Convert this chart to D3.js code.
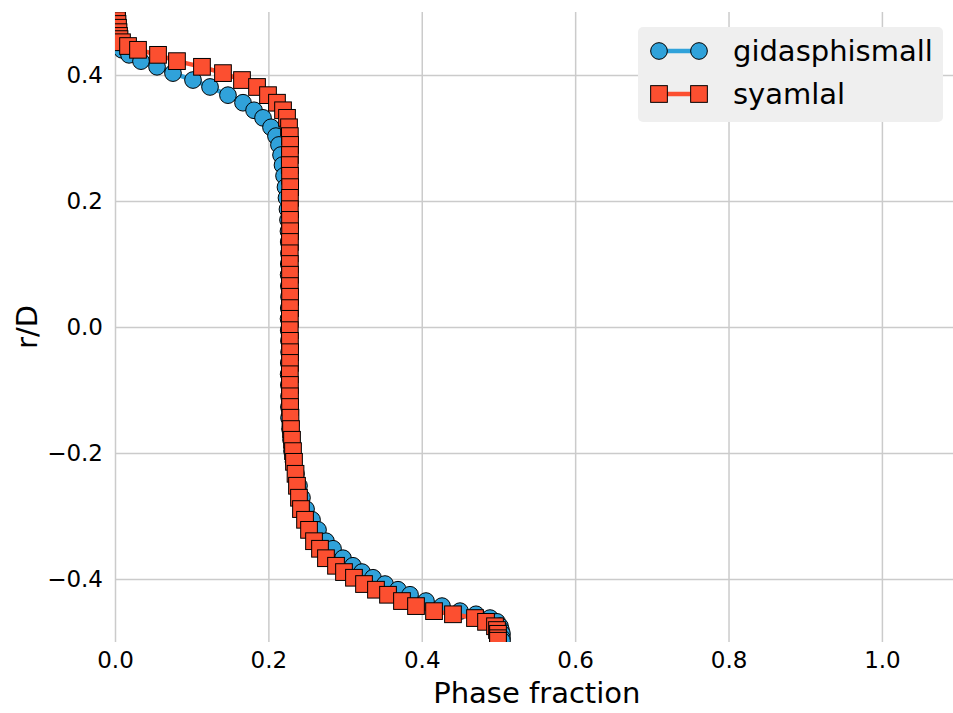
<!DOCTYPE html>
<html>
<head>
<meta charset="utf-8">
<script src="https://cdn.jsdelivr.net/npm/d3@7"></script>
<style>
  html, body { margin: 0; padding: 0; background: #fff; }
  svg { display: block; font-family: "DejaVu Sans", sans-serif; }
</style>
</head>
<body>
<div id="chart"></div>
<script>
// r/D sample positions (shared by both runs)
const rD = [
  0.500, 0.494, 0.487, 0.481, 0.475, 0.468, 0.462, 0.457, 0.452, 0.446, 0.440,
  0.432, 0.422, 0.413, 0.403, 0.392, 0.381, 0.368, 0.356, 0.344, 0.332, 0.317,
  0.303, 0.289, 0.273, 0.257, 0.240, 0.222, 0.205, 0.187, 0.170, 0.152, 0.135,
  0.117, 0.100, 0.083, 0.065, 0.048, 0.030, 0.013, -0.005, -0.022, -0.040, -0.057,
  -0.075, -0.092, -0.110, -0.127, -0.144, -0.162, -0.179, -0.197, -0.214, -0.233, -0.252,
  -0.271, -0.289, -0.306, -0.322, -0.340, -0.352, -0.367, -0.379, -0.389, -0.398, -0.408,
  -0.417, -0.425, -0.435, -0.443, -0.451, -0.456, -0.462, -0.468, -0.475, -0.481, -0.487,
  -0.494, -0.498
];

// phase fraction, gidasphismall
const gidasphismall = [
  0.0013, 0.0013, 0.0020, 0.0026, 0.0026, 0.0033, 0.0039, 0.0046, 0.0052, 0.0065, 0.0091,
  0.0183, 0.0339, 0.0548, 0.0756, 0.1017, 0.1239, 0.1473, 0.1669, 0.1813, 0.1930, 0.2034,
  0.2099, 0.2138, 0.2165, 0.2184, 0.2204, 0.2223, 0.2236, 0.2249, 0.2256, 0.2262, 0.2265,
  0.2268, 0.2266, 0.2264, 0.2267, 0.2269, 0.2266, 0.2263, 0.2265, 0.2268, 0.2270, 0.2266,
  0.2264, 0.2267, 0.2269, 0.2268, 0.2269, 0.2282, 0.2295, 0.2308, 0.2328, 0.2360, 0.2399,
  0.2438, 0.2491, 0.2569, 0.2647, 0.2751, 0.2843, 0.2973, 0.3103, 0.3221, 0.3364, 0.3521,
  0.3690, 0.3847, 0.4055, 0.4264, 0.4499, 0.4707, 0.4890, 0.4981, 0.5020, 0.5033, 0.5046,
  0.5046, 0.5046
];

// phase fraction, syamlal
const syamlal = [
  0.0026, 0.0026, 0.0026, 0.0033, 0.0039, 0.0046, 0.0052, 0.0059, 0.0091, 0.0170, 0.0300,
  0.0561, 0.0808, 0.1134, 0.1408, 0.1656, 0.1852, 0.1995, 0.2112, 0.2191, 0.2243, 0.2269,
  0.2280, 0.2283, 0.2281, 0.2279, 0.2282, 0.2284, 0.2281, 0.2280, 0.2282, 0.2283, 0.2281,
  0.2279, 0.2280, 0.2282, 0.2281, 0.2283, 0.2282, 0.2280, 0.2279, 0.2281, 0.2283, 0.2282,
  0.2280, 0.2281, 0.2282, 0.2283, 0.2288, 0.2295, 0.2308, 0.2321, 0.2334, 0.2354, 0.2373,
  0.2399, 0.2425, 0.2478, 0.2530, 0.2595, 0.2673, 0.2751, 0.2882, 0.2986, 0.3116, 0.3247,
  0.3403, 0.3560, 0.3742, 0.3925, 0.4160, 0.4407, 0.4694, 0.4838, 0.4955, 0.4981, 0.4994,
  0.4994, 0.4994
];

const xTicks = [0.0, 0.2, 0.4, 0.6, 0.8, 1.0];
const yTicks = [-0.4, -0.2, 0.0, 0.2, 0.4];
const seriesNames = ["gidasphismall", "syamlal"];
const seriesColors = ["#30a2da", "#fc4f30"];

// dimensions
const width = 953;
const height = 713;
const marginLeft = 115;
const marginTop = 12;
const plotW = 843.6;   // axes run past the right edge of the picture (x up to 1.1)
const plotH = 630;
const tickFont = "23px";
const labelFont = "29px";
const markerSize = 16.7;

const x = d3.scaleLinear().domain([0, 1.1]).range([marginLeft, marginLeft + plotW]);
const y = d3.scaleLinear().domain([-0.5, 0.5]).range([marginTop + plotH, marginTop]);

const svg = d3.select("#chart").append("svg")
  .attr("width", width)
  .attr("height", height)
  .attr("viewBox", [0, 0, width, height]);

svg.append("defs").append("clipPath")
  .attr("id", "plot-clip")
  .append("rect")
  .attr("x", marginLeft)
  .attr("y", marginTop)
  .attr("width", plotW)
  .attr("height", plotH);

// grid + tick labels
svg.append("g")
  .attr("transform", `translate(0,${marginTop + plotH})`)
  .call(d3.axisBottom(x).tickValues(xTicks).tickFormat(d3.format(".1f"))
    .tickSize(-plotH).tickPadding(10))
  .call(g => g.select(".domain").remove())
  .call(g => g.selectAll(".tick line").attr("stroke", "#cbcbcb").attr("stroke-width", 1.5))
  .call(g => g.selectAll(".tick text").attr("font-size", tickFont).attr("fill", "#000")
    .attr("font-family", "DejaVu Sans, sans-serif"));

svg.append("g")
  .attr("transform", `translate(${marginLeft},0)`)
  .call(d3.axisLeft(y).tickValues(yTicks).tickFormat(d3.format(".1f"))
    .tickSize(-plotW).tickPadding(12))
  .call(g => g.select(".domain").remove())
  .call(g => g.selectAll(".tick line").attr("stroke", "#cbcbcb").attr("stroke-width", 1.5))
  .call(g => g.selectAll(".tick text").attr("font-size", tickFont).attr("fill", "#000")
    .attr("font-family", "DejaVu Sans, sans-serif"));

// axis labels
svg.append("text")
  .attr("x", marginLeft + plotW / 2)
  .attr("y", 703)
  .attr("text-anchor", "middle")
  .attr("font-size", labelFont)
  .text("Phase fraction");

svg.append("text")
  .attr("transform", `translate(37,${marginTop + plotH / 2}) rotate(-90)`)
  .attr("text-anchor", "middle")
  .attr("font-size", labelFont)
  .text("r/D");

// data
const series = [gidasphismall, syamlal].map((vals, i) => ({
  name: seriesNames[i],
  color: seriesColors[i],
  points: vals.map((v, j) => ({ v, r: rD[j] }))
}));

const line = d3.line().x(d => x(d.v)).y(d => y(d.r));
const plot = svg.append("g").attr("clip-path", "url(#plot-clip)");

series.forEach((s, i) => {
  const g = plot.append("g");
  g.append("path")
    .datum(s.points)
    .attr("fill", "none")
    .attr("stroke", s.color)
    .attr("stroke-width", 4.5)
    .attr("d", line);
  if (i === 0) {
    g.selectAll("circle")
      .data(s.points)
      .join("circle")
      .attr("cx", d => x(d.v))
      .attr("cy", d => y(d.r))
      .attr("r", markerSize / 2)
      .attr("fill", s.color)
      .attr("stroke", "#000")
      .attr("stroke-width", 1);
  } else {
    g.selectAll("rect")
      .data(s.points)
      .join("rect")
      .attr("x", d => x(d.v) - markerSize / 2)
      .attr("y", d => y(d.r) - markerSize / 2)
      .attr("width", markerSize)
      .attr("height", markerSize)
      .attr("fill", s.color)
      .attr("stroke", "#000")
      .attr("stroke-width", 1);
  }
});

// legend
const legend = svg.append("g");
legend.append("rect")
  .attr("x", 638).attr("y", 27)
  .attr("width", 305).attr("height", 95)
  .attr("rx", 5)
  .attr("fill", "#efefef");

series.forEach((s, i) => {
  const ly = 51 + i * 43;
  legend.append("line")
    .attr("x1", 659).attr("x2", 699)
    .attr("y1", ly).attr("y2", ly)
    .attr("stroke", s.color).attr("stroke-width", 4.5);
  [659, 699].forEach(cx => {
    if (i === 0) {
      legend.append("circle")
        .attr("cx", cx).attr("cy", ly).attr("r", markerSize / 2)
        .attr("fill", s.color).attr("stroke", "#000").attr("stroke-width", 1);
    } else {
      legend.append("rect")
        .attr("x", cx - markerSize / 2).attr("y", ly - markerSize / 2)
        .attr("width", markerSize).attr("height", markerSize)
        .attr("fill", s.color).attr("stroke", "#000").attr("stroke-width", 1);
    }
  });
  legend.append("text")
    .attr("x", 733).attr("y", ly)
    .attr("dy", "0.35em")
    .attr("font-size", labelFont)
    .text(s.name);
});
</script>
</body>
</html>
